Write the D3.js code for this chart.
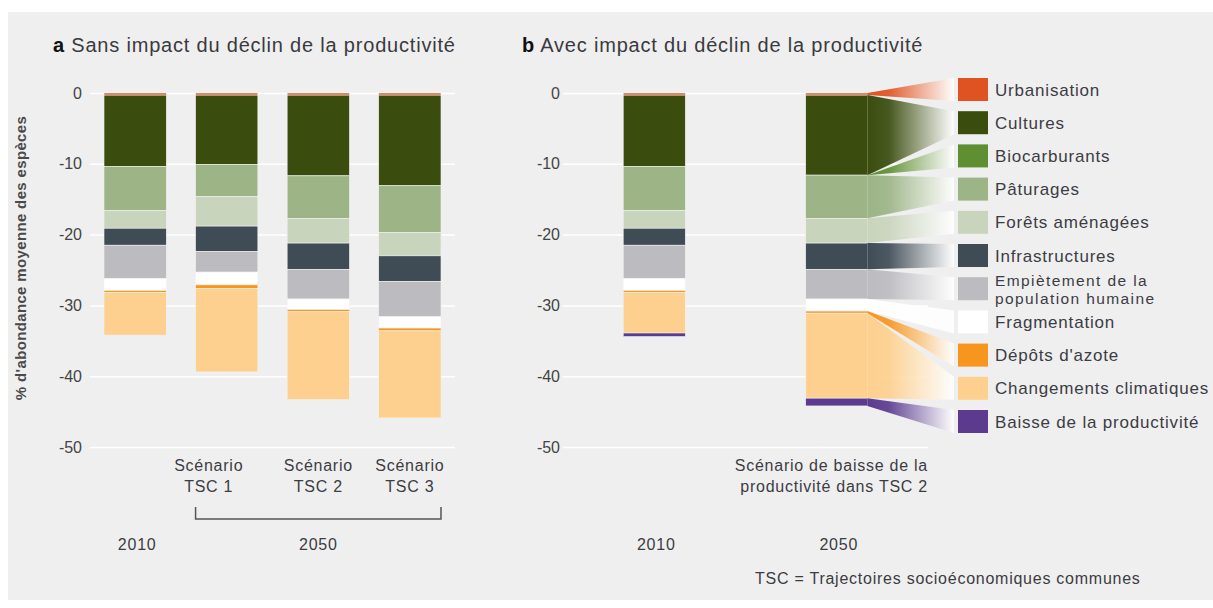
<!DOCTYPE html>
<html lang="fr">
<head>
<meta charset="utf-8">
<title>Abondance moyenne des espèces</title>
<script src="https://d3js.org/d3.v7.min.js"></script>
<style>
  body { margin: 0; background: #fff; }
  svg { display: block; font-family: "Liberation Sans", Arial, Helvetica, sans-serif; }
  .grid line { stroke: #fff; stroke-width: 1.5px; }
  .grid text { font-size: 16px; fill: #444; }
  .title { font-size: 20px; fill: #3a3a3f; letter-spacing: 0.8px; }
  .title .letter { font-weight: bold; fill: #111; }
  .lab { font-size: 16px; fill: #3c3c42; letter-spacing: 0.75px; }
  .leg { font-size: 17px; fill: #3c3c44; letter-spacing: 0.8px; }
  .leg.two { font-size: 15.5px; letter-spacing: 1.4px; }
  .ylab { font-size: 15px; font-weight: bold; fill: #4a4a4a; letter-spacing: 0.35px; }
  .seg { stroke: #f2f2f2; stroke-width: 0.6px; }
</style>
</head>
<body>
<script>
// categories, top of the bar first
var categories = ["Urbanisation", "Cultures", "Biocarburants", "Pâturages", "Forêts aménagées",
  "Infrastructures", "Empiètement de la\npopulation humaine", "Fragmentation",
  "Dépôts d'azote", "Changements climatiques", "Baisse de la productivité"];
var colors = ["#de5321", "#3a4c0e", "#5f8f31", "#9cb486", "#c9d4bd",
  "#3f4c56", "#bcbbc0", "#ffffff", "#f7961e", "#fdd08f", "#5c3b8f"];

// panel a
var barsA = ["2010", "TSC 1", "TSC 2", "TSC 3"];
var valuesA = [
  [0.3, 10.1, 0, 6.2, 2.5, 2.4, 4.7, 1.7, 0.3, 6.0, 0],
  [0.3, 9.8, 0, 4.5, 4.2, 3.6, 2.9, 1.8, 0.5, 11.8, 0],
  [0.3, 11.4, 0, 6.0, 3.5, 3.7, 4.2, 1.5, 0.3, 12.4, 0],
  [0.3, 12.8, 0, 6.6, 3.3, 3.6, 5.0, 1.6, 0.4, 12.3, 0]
];
var labelsA = ["", "Scénario\nTSC 1", "Scénario\nTSC 2", "Scénario\nTSC 3"];

// panel b
var barsB = ["2010", "2050"];
var valuesB = [
  [0.3, 10.1, 0, 6.2, 2.5, 2.4, 4.7, 1.7, 0.3, 5.7, 0.5],
  [0.3, 11.3, 0, 6.1, 3.5, 3.7, 4.2, 1.7, 0.3, 12.0, 1.1]
];

var yTicks = [0, -10, -20, -30, -40, -50];

var width = 1213, height = 608;
var svg = d3.select("body").append("svg")
    .attr("width", width)
    .attr("height", height);

svg.append("rect")
    .attr("x", 8).attr("y", 12)
    .attr("width", width - 8).attr("height", height - 20)
    .attr("fill", "#efefef");

var y = d3.scaleLinear().domain([0, -50]).range([93, 447]);

var xa = d3.scaleBand().domain(barsA).range([90, 455])
    .paddingInner(0.32).paddingOuter(0.153);
var xb = d3.scaleBand().domain(barsB).range([563, 928])
    .paddingInner(0.66).paddingOuter(0.33);

function grid(x, pad) {
  var r = x.range();
  svg.append("g")
      .attr("class", "grid")
      .attr("transform", "translate(" + r[0] + ",0)")
      .call(d3.axisLeft(y).tickValues(yTicks).tickSize(-(r[1] - r[0]))
        .tickPadding(pad).tickFormat(function(d) { return String(d); }))
      .call(function(g) { g.select(".domain").remove(); });
}
grid(xa, 8);
grid(xb, 3);

function stackOf(bars, values) {
  var rows = bars.map(function(b, i) {
    var o = { bar: b };
    categories.forEach(function(c, j) { o[c] = values[i][j]; });
    return o;
  });
  return d3.stack().keys(categories)(rows);
}

function drawBars(x, bars, values) {
  var st = stackOf(bars, values);
  svg.append("g").selectAll("g")
    .data(st)
    .enter().append("g")
      .attr("fill", function(d, i) { return colors[i]; })
    .selectAll("rect")
    .data(function(d) { return d; })
    .enter().append("rect")
      .attr("class", "seg")
      .attr("x", function(d) { return x(d.data.bar); })
      .attr("width", x.bandwidth())
      .attr("y", function(d) { return y(-d[0]); })
      .attr("height", function(d) { return y(-d[1]) - y(-d[0]); });
  return st;
}
drawBars(xa, barsA, valuesA);
var stB = drawBars(xb, barsB, valuesB);

// legend
var legX = 958, legW = 30;
var ly = d3.scaleBand().domain(categories).range([78, 78 + 33.2 * (categories.length - 0.307)])
    .paddingInner(0.307).paddingOuter(0);

// flows from the 2050 bar to the legend
var defs = svg.append("defs");
var fx0 = xb("2050") + xb.bandwidth() - 0.4, fx1 = legX - 4;
categories.forEach(function(c, i) {
  var gr = defs.append("linearGradient")
      .attr("id", "flow" + i)
      .attr("gradientUnits", "userSpaceOnUse")
      .attr("x1", fx0).attr("x2", fx1).attr("y1", 0).attr("y2", 0);
  gr.append("stop").attr("offset", "0").attr("stop-color", colors[i]);
  gr.append("stop").attr("offset", "0.25").attr("stop-color", colors[i]).attr("stop-opacity", 0.92);
  gr.append("stop").attr("offset", "1").attr("stop-color", "#fff").attr("stop-opacity", 0.9);
});

svg.append("g").selectAll("path")
  .data(stB)
  .enter().append("path")
    .attr("fill", function(d, i) { return "url(#flow" + i + ")"; })
    .attr("d", function(s) {
      var d = s[1], c = s.key;
      return "M" + fx0 + "," + y(-d[0]) +
        "L" + fx1 + "," + ly(c) +
        "L" + fx1 + "," + (ly(c) + ly.bandwidth()) +
        "L" + fx0 + "," + y(-d[1]) + "Z";
    });

var leg = svg.append("g").selectAll("g")
  .data(categories)
  .enter().append("g");
leg.append("rect")
    .attr("x", legX).attr("y", function(c) { return ly(c); })
    .attr("width", legW).attr("height", ly.bandwidth())
    .attr("fill", function(c, i) { return colors[i]; });
leg.append("text")
    .attr("class", function(c) { return c.indexOf("\n") >= 0 ? "leg two" : "leg"; })
    .attr("x", legX + 37)
    .attr("y", function(c) {
      var n = c.split("\n").length;
      return ly(c) + ly.bandwidth() / 2 + 6 - (n - 1) * 8.5;
    })
    .each(function(c) {
      var t = d3.select(this);
      c.split("\n").forEach(function(line, k) {
        t.append("tspan").attr("x", legX + 37).attr("dy", k ? 17.5 : 0).text(line);
      });
    });

// titles
function title(x, letter, text) {
  var t = svg.append("text").attr("class", "title").attr("x", x).attr("y", 52);
  t.append("tspan").attr("class", "letter").text(letter);
  t.append("tspan").text(" " + text);
}
title(53, "a", "Sans impact du déclin de la productivité");
title(522, "b", "Avec impact du déclin de la productivité");

// y axis label
svg.append("text")
    .attr("class", "ylab")
    .attr("transform", "translate(26,258) rotate(-90)")
    .attr("text-anchor", "middle")
    .text("% d'abondance moyenne des espèces");

// scenario labels
var labelShift = [0, -18, 0, 0];
function multiline(x, y0, text, anchor) {
  var t = svg.append("text").attr("class", "lab").attr("text-anchor", anchor).attr("y", y0);
  text.split("\n").forEach(function(line, k) {
    t.append("tspan").attr("x", x).attr("dy", k ? 21 : 0).text(line);
  });
}
barsA.forEach(function(b, i) {
  if (labelsA[i]) multiline(xa(b) + xa.bandwidth() / 2 + labelShift[i], 471, labelsA[i], "middle");
});
multiline(xb.range()[1], 471, "Scénario de baisse de la\nproductivité dans TSC 2", "end");

// bracket over the 2050 scenarios
var bx0 = xa("TSC 1"), bx1 = xa("TSC 3") + xa.bandwidth();
svg.append("path")
    .attr("d", "M" + bx0 + ",507V519H" + bx1 + "V507")
    .attr("fill", "none")
    .attr("stroke", "#555")
    .attr("stroke-width", 1.5);

// years
svg.append("text").attr("class", "lab").attr("text-anchor", "middle")
    .attr("x", xa("2010") + xa.bandwidth() / 2 + 2).attr("y", 550).text("2010");
svg.append("text").attr("class", "lab").attr("text-anchor", "middle")
    .attr("x", (bx0 + bx1) / 2).attr("y", 550).text("2050");
barsB.forEach(function(b) {
  svg.append("text").attr("class", "lab").attr("text-anchor", "middle")
      .attr("x", xb(b) + xb.bandwidth() / 2 + 2).attr("y", 550).text(b);
});

svg.append("text").attr("class", "lab")
    .attr("x", 755).attr("y", 584)
    .text("TSC = Trajectoires socioéconomiques communes");
</script>
</body>
</html>
